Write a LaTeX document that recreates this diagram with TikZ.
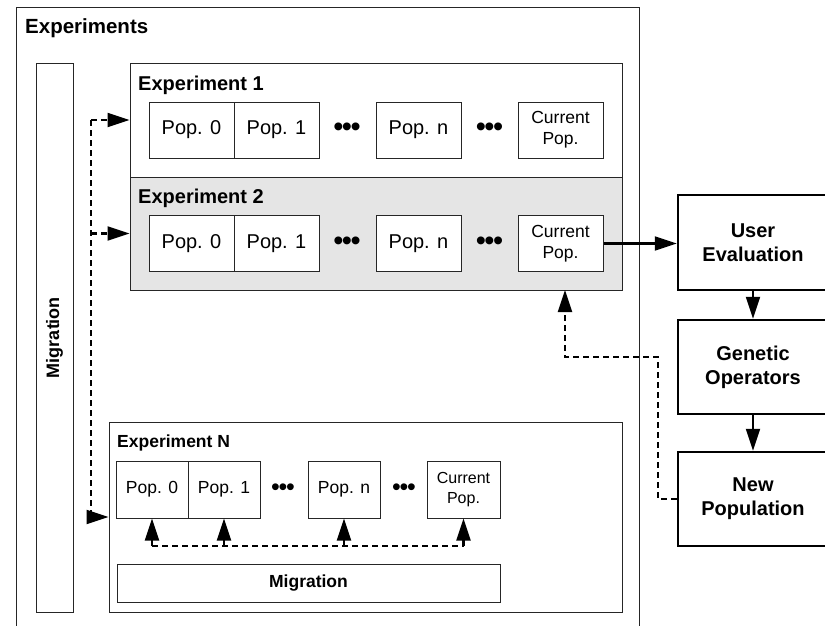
\documentclass[tikz,border=0pt]{standalone}
\usepackage{fontspec}
\setmainfont{Liberation Sans}
\usetikzlibrary{arrows.meta}
\newcommand{\threedots}{•\kern-1.5pt•\kern-1.5pt•}
\newcommand{\threedotsN}{•\kern-1.2pt•\kern-1.2pt•}
\begin{document}
\begin{tikzpicture}[x=1pt,y=-1pt,
  frame/.style={draw=black!85, line width=1pt, inner sep=0pt},
  lbl/.style={anchor=west, inner sep=0pt, font=\fontsize{20}{22}\selectfont\bfseries},
  pop/.style={draw=black!85, line width=1pt, fill=white, minimum height=56pt, inner sep=0pt, align=center, font=\fontsize{20}{22}\selectfont},
  popN/.style={draw=black!85, line width=1pt, fill=white, minimum height=57pt, minimum width=72pt, inner sep=0pt, align=center, font=\fontsize{17.5}{20}\selectfont},
  cur/.style={font=\fontsize{17.5}{21}\selectfont},
  curN/.style={font=\fontsize{16}{20}\selectfont},
  dots/.style={inner sep=0pt, font=\fontsize{29}{29}\selectfont},
  rbox/.style={draw=black, line width=2.5pt, minimum width=150pt, minimum height=94pt, inner sep=0pt, align=center, font=\fontsize{20}{24}\selectfont\bfseries},
  arr/.style={-{Triangle[length=22pt,width=14pt]}, line width=2.2pt},
  dsh/.style={dash pattern=on 6pt off 4pt, line width=2.2pt}
]
\useasboundingbox (0,0) rectangle (825,625);
% outer container
\node[frame, minimum width=623pt, minimum height=640pt] (outer) at (327.5,327) {};
\node[lbl, font=\fontsize{20.5}{22}\selectfont\bfseries] (title) at (25,28) {Experiments};
% left migration bar
\node[frame, minimum width=37pt, minimum height=549pt] (migL) at (54.5,337.5) {};
\node[rotate=90, inner sep=0pt, font=\fontsize{18}{20}\selectfont\bfseries] (migLt) at (migL.center) {Migration};
% experiment 1
\node[frame, minimum width=492pt, minimum height=114pt] (exp1) at (376,120) {};
\node[lbl] (exp1t) at (138,85) {Experiment 1};
\node[pop, minimum width=85pt] (a0) at (191.5,130) {Pop. 0};
\node[pop, minimum width=85pt] (a1) at (276.5,130) {Pop. 1};
\node[dots] (ad1) at (347,130) {\threedots};
\node[pop, minimum width=85pt] (an) at (418.5,130) {Pop. n};
\node[dots] (ad2) at (489.5,130) {\threedots};
\node[pop, minimum width=85pt, cur] (ac) at (560.5,130) {Current\\Pop.};
% experiment 2
\node[frame, fill=black!10, minimum width=492pt, minimum height=113pt] (exp2) at (376,233.5) {};
\node[lbl] (exp2t) at (138,198) {Experiment 2};
\node[pop, minimum width=85pt] (b0) at (191.5,243.5) {Pop. 0};
\node[pop, minimum width=85pt] (b1) at (276.5,243.5) {Pop. 1};
\node[dots] (bd1) at (347,243.5) {\threedots};
\node[pop, minimum width=85pt] (bn) at (418.5,243.5) {Pop. n};
\node[dots] (bd2) at (489.5,243.5) {\threedots};
\node[pop, minimum width=85pt, cur] (bc) at (560.5,243.5) {Current\\Pop.};
% experiment N
\node[frame, minimum width=513pt, minimum height=190pt] (expN) at (365.5,517) {};
\node[lbl, font=\fontsize{17.5}{20}\selectfont\bfseries] (expNt) at (117,443) {Experiment N};
\node[popN] (c0) at (152,489.5) {Pop. 0};
\node[popN] (c1) at (224,489.5) {Pop. 1};
\node[dots, font=\fontsize{25}{25}\selectfont] (cd1) at (283,489.5) {\threedotsN};
\node[popN] (cn) at (344,489.5) {Pop. n};
\node[dots, font=\fontsize{25}{25}\selectfont] (cd2) at (404,489.5) {\threedotsN};
\node[popN, minimum width=73pt, curN] (cc) at (463.5,489.5) {Current\\Pop.};
\node[frame, minimum width=383pt, minimum height=38pt, font=\fontsize{17.5}{20}\selectfont\bfseries] (migB) at (308.5,583) {Migration};
% right column
\node[rbox, minimum height=95pt] (ue) at (753,242.5) {User\\Evaluation};
\node[rbox] (go) at (753,367) {Genetic\\Operators};
\node[rbox] (np) at (753,499) {New\\Population};
% solid arrows
\draw[arr] (bc.east) -- (bc.east -| ue.west);
\draw[arr] (ue.south) -- (go.north);
\draw[arr] (go.south) -- (np.north);
% dashed feedback
\coordinate (d1) at (658,357);
\coordinate (d2) at (565,290);
\draw[dsh, arr, dash pattern=on 6pt off 4pt] (np.west) -| (d1) -| (d2);
% left dashed migration
\coordinate (vl) at (91,0);
\draw[dsh] (exp1.west -| vl) -- (expN.west -| vl);
\draw[dsh, arr, dash pattern=on 6pt off 4pt] (exp1.west -| vl) -- (exp1.west);
\draw[dsh, arr, dash pattern=on 6pt off 4pt] (exp2.west -| vl) -- (exp2.west);
\draw[dsh, arr, dash pattern=on 6pt off 4pt] (expN.west -| vl) -- (expN.west);
% inner migration in experiment N
\coordinate (mb) at (0,546);
\draw[dsh] (c0.south |- mb) -- (cc.south |- mb);
\draw[dsh, arr, dash pattern=on 6pt off 4pt] (c0.south |- mb) -- (c0.south);
\draw[dsh, arr, dash pattern=on 6pt off 4pt] (c1.south |- mb) -- (c1.south);
\draw[dsh, arr, dash pattern=on 6pt off 4pt] (cn.south |- mb) -- (cn.south);
\draw[dsh, arr, dash pattern=on 6pt off 4pt] (cc.south |- mb) -- (cc.south);
\end{tikzpicture}
\end{document}
